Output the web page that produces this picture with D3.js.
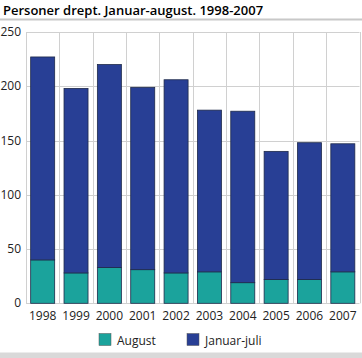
<!DOCTYPE html>
<html><head><meta charset="utf-8">
<script src="https://cdn.jsdelivr.net/npm/d3@7"></script>
<style>body{margin:0;background:#fff}svg{display:block}</style>
</head><body>
<script>
const years = ["1998","1999","2000","2001","2002","2003","2004","2005","2006","2007"];
const august = [40,28,33,31,28,29,19,22,22,29];
const januarJuli = [187,170,187,168,178,149,158,118,126,118];
const yTicks = [0,50,100,150,200,250];
const seriesNames = ["August","Januar-juli"];
const colors = ["#1ba39c","#283f95"];

const W=362,H=358;
const svg=d3.select("body").append("svg").attr("width",W).attr("height",H);
const font="'Open Sans', 'DejaVu Sans', sans-serif";

svg.append("text").attr("x",3).attr("y",15).text("Personer drept. Januar-august. 1998-2007")
  .style("font-family",font).style("font-size","13px").style("font-weight","600").attr("fill","#000");
svg.append("rect").attr("x",0).attr("y",18.5).attr("width",W).attr("height",2).attr("fill","#c8c8c8");
svg.append("rect").attr("x",0).attr("y",352.5).attr("width",W).attr("height",6).attr("fill","#d9d9d9");

const x=d3.scaleBand().domain(years).range([26,359.5]).paddingInner(0.28).paddingOuter(0.14);
const y=d3.scaleLinear().domain([0,250]).range([303.3,32]);

const g=svg.append("g");
// horizontal grid
g.selectAll("line.h").data(yTicks).join("line").attr("class","h")
  .attr("x1",26).attr("x2",359.5).attr("y1",d=>Math.round(y(d))+0.5).attr("y2",d=>Math.round(y(d))+0.5)
  .attr("stroke","#d0d0d0").attr("stroke-width",1);
// vertical grid at category boundaries
const step=x.step();
const bounds=d3.range(years.length+1).map(i=>26+i*(333.5/years.length));
g.selectAll("line.v").data(bounds).join("line").attr("class","v")
  .attr("x1",d=>Math.round(d)+0.5).attr("x2",d=>Math.round(d)+0.5).attr("y1",y(250)).attr("y2",y(0))
  .attr("stroke","#d0d0d0").attr("stroke-width",1);

const data=years.map((yr,i)=>({year:yr,August:august[i],"Januar-juli":januarJuli[i]}));
const stack=d3.stack().keys(seriesNames)(data);
svg.append("g").selectAll("g").data(stack).join("g").attr("fill",(d,i)=>colors[i])
  .selectAll("rect").data(d=>d).join("rect")
  .attr("x",d=>x(d.data.year)).attr("width",x.bandwidth())
  .attr("y",d=>y(d[1])).attr("height",d=>y(d[0])-y(d[1]))
  .attr("stroke","#1e2a4a").attr("stroke-width",0.8);

// y axis labels
svg.append("g").selectAll("text").data(yTicks).join("text")
  .attr("x",21).attr("y",d=>y(d)+4).attr("text-anchor","end").text(d=>d)
  .style("font-family",font).style("font-size","12px").attr("fill","#222");
// x axis labels
svg.append("g").selectAll("text").data(years).join("text")
  .attr("x",d=>x(d)+x.bandwidth()/2).attr("y",320).attr("text-anchor","middle").text(d=>d)
  .style("font-family",font).style("font-size","12px").attr("fill","#222");

// legend
const leg=[{n:"August",c:colors[0],x:99},{n:"Januar-juli",c:colors[1],x:187}];
const lg=svg.append("g").selectAll("g").data(leg).join("g").attr("transform",d=>`translate(${d.x},333.5)`);
lg.append("rect").attr("width",12).attr("height",12).attr("fill",d=>d.c).attr("stroke","#555").attr("stroke-width",0.5);
lg.append("text").attr("x",18).attr("y",11).text(d=>d.n)
  .style("font-family",font).style("font-size","12px").attr("fill","#222");
</script>
</body></html>
